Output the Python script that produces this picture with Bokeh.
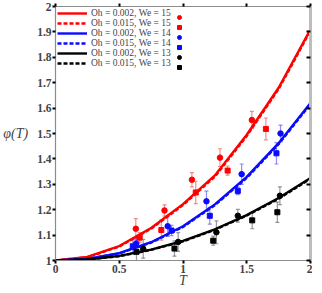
from bokeh.plotting import figure
from bokeh.models import (Range1d, LinearAxis, FixedTicker, Legend, LegendItem,
                          ColumnDataSource, Whisker, TeeHead)
from bokeh.embed import file_html
from bokeh.resources import INLINE

# ---- data -------------------------------------------------------------
T_curve = [0, 0.25, 0.5, 0.75, 1.0, 1.25, 1.5, 1.75, 2.0]
red_solid = [1, 1.014, 1.057, 1.128, 1.222, 1.335, 1.495, 1.680, 1.910]
red_dash = [1, 1.013, 1.055, 1.125, 1.218, 1.330, 1.490, 1.675, 1.905]
blue_solid = [1, 1.006, 1.029, 1.072, 1.135, 1.221, 1.329, 1.462, 1.620]
blue_dash = [1, 1.006, 1.028, 1.070, 1.132, 1.218, 1.325, 1.458, 1.616]
black_solid = [1, 1.004, 1.018, 1.043, 1.077, 1.123, 1.179, 1.246, 1.325]
black_dash = [1, 1.004, 1.017, 1.042, 1.075, 1.121, 1.177, 1.243, 1.322]

# experiments: We = 15
red_c_T = [0.63, 0.855, 1.07, 1.29, 1.54]
red_c_phi = [1.125, 1.197, 1.318, 1.405, 1.553]
red_c_err = [0.040, 0.022, 0.028, 0.035, 0.034]
red_s_T = [0.66, 0.83, 1.10, 1.35, 1.65]
red_s_phi = [1.090, 1.120, 1.268, 1.354, 1.518]
red_s_err = [0.020, 0.040, 0.044, 0.018, 0.043]
# We = 14
blue_c_T = [0.633, 0.88, 1.184, 1.46, 1.765]
blue_c_phi = [1.067, 1.135, 1.233, 1.340, 1.500]
blue_c_err = [0.020, 0.040, 0.040, 0.040, 0.033]
blue_s_T = [0.606, 0.91, 1.21, 1.43, 1.733]
blue_s_phi = [1.056, 1.118, 1.176, 1.274, 1.422]
blue_s_err = [0.025, 0.020, 0.033, 0.015, 0.042]
# We = 13
black_c_T = [0.688, 0.962, 1.262, 1.43, 1.76]
black_c_phi = [1.046, 1.073, 1.111, 1.176, 1.255]
black_c_err = [0.037, 0.037, 0.045, 0.025, 0.035]
black_s_T = [0.635, 0.933, 1.237, 1.543, 1.74]
black_s_phi = [1.034, 1.047, 1.078, 1.158, 1.190]
black_s_err = [0.050, 0.030, 0.018, 0.033, 0.040]

labels = ["Oh = 0.002, We = 15", "Oh = 0.015, We = 15",
          "Oh = 0.002, We = 14", "Oh = 0.015, We = 14",
          "Oh = 0.002, We = 13", "Oh = 0.015, We = 13"]

x_ticks = [0, 0.5, 1, 1.5, 2]
x_tick_labels = ["0", "0.5", "1", "1.5", "2"]
y_ticks = [1, 1.1, 1.2, 1.3, 1.4, 1.5, 1.6, 1.7, 1.8, 1.9, 2]
y_tick_labels = ["1", "1.1", "1.2", "1.3", "1.4", "1.5", "1.6", "1.7", "1.8", "1.9", "2"]

# ---- figure -----------------------------------------------------------
FONT = "Liberation Serif"
p = figure(width=312, height=290, x_range=Range1d(0, 2), y_range=Range1d(1, 2),
           output_backend="svg", toolbar_location=None,
           min_border_left=0, min_border_right=2, min_border_top=6, min_border_bottom=0)
p.grid.visible = False
p.outline_line_color = None
p.background_fill_color = "white"

def style_axis(ax, ticks, labels_, show_labels=True):
    ax.ticker = FixedTicker(ticks=ticks)
    ax.major_label_overrides = {t: l for t, l in zip(ticks, labels_)}
    ax.axis_line_color = "#8c8c8c"
    ax.axis_line_width = 1.2
    ax.major_tick_line_color = "black"
    ax.major_tick_line_width = 2
    ax.major_tick_out = 3
    ax.major_tick_in = 0
    ax.minor_tick_line_color = None
    ax.major_label_text_font = FONT
    ax.major_label_text_font_style = "bold"
    if show_labels:
        ax.major_label_text_font_size = "11.5px"
        ax.major_label_standoff = 1
    else:
        ax.major_label_text_font_size = "1px"
        ax.major_label_text_color = None
        ax.major_label_standoff = 0

style_axis(p.xaxis[0], x_ticks, x_tick_labels)
style_axis(p.yaxis[0], y_ticks, y_tick_labels)
p.xaxis.axis_label = "T"
p.xaxis.axis_label_text_font = FONT
p.xaxis.axis_label_text_font_style = "italic"
p.xaxis.axis_label_text_font_size = "14px"
p.xaxis.axis_label_standoff = -3
p.yaxis.axis_label = "φ(T)"
p.yaxis.axis_label_text_font = FONT
p.yaxis.axis_label_text_font_style = "italic"
p.yaxis.axis_label_text_font_size = "14px"
p.yaxis.axis_label_orientation = "horizontal"
p.yaxis.axis_label_standoff = 6

top = LinearAxis()
style_axis(top, x_ticks, x_tick_labels, show_labels=False)
p.add_layout(top, "above")
right = LinearAxis()
style_axis(right, y_ticks, y_tick_labels, show_labels=False)
right.major_tick_out = 0
right.major_tick_in = 4
right.axis_line_color = "#bdbdbd"
right.axis_line_width = 3
p.add_layout(right, "right")

# ---- curves -----------------------------------------------------------
RED, BLUE, BLACK = "#ff0000", "#0a0aff", "#000000"
lines = []
for ys, col, dash in [(red_solid, RED, "solid"), (red_dash, RED, "4 2"),
                      (blue_solid, BLUE, "solid"), (blue_dash, BLUE, "4 2"),
                      (black_solid, BLACK, "solid"), (black_dash, BLACK, "4 2")]:
    lines.append(p.line(T_curve, ys, line_color=col, line_width=2.4, line_dash=dash))

# ---- experiments -------------------------------------------------------
markers = []
sets = [(red_c_T, red_c_phi, red_c_err, RED, "#f07070", "circle"),
        (red_s_T, red_s_phi, red_s_err, RED, "#f07070", "square"),
        (blue_c_T, blue_c_phi, blue_c_err, BLUE, "#7070f0", "circle"),
        (blue_s_T, blue_s_phi, blue_s_err, BLUE, "#7070f0", "square"),
        (black_c_T, black_c_phi, black_c_err, BLACK, "#808080", "circle"),
        (black_s_T, black_s_phi, black_s_err, BLACK, "#808080", "square")]
for Ts, phis, errs, col, ecol, mk in sets:
    src = ColumnDataSource(dict(x=Ts, y=phis,
                                upper=[a + e for a, e in zip(phis, errs)],
                                lower=[a - e for a, e in zip(phis, errs)]))
    w = Whisker(source=src, base="x", upper="upper", lower="lower",
                line_color=ecol, line_alpha=0.8, line_width=1.2,
                upper_head=TeeHead(size=4, line_color=ecol, line_alpha=0.8, line_width=1.2),
                lower_head=TeeHead(size=4, line_color=ecol, line_alpha=0.8, line_width=1.2))
    p.add_layout(w)
    markers.append(p.scatter("x", "y", source=src, marker=mk,
                             size=5.5 if mk == "circle" else 5,
                             fill_color=col, line_color=col))

# ---- legends -----------------------------------------------------------
leg1 = Legend(items=[LegendItem(label=l, renderers=[r]) for l, r in zip(labels, lines)],
              location="top_left", margin=2, padding=1, spacing=0,
              glyph_width=30, glyph_height=10, label_height=10, label_standoff=4,
              label_text_font=FONT, label_text_font_size="9.5px",
              border_line_color=None, background_fill_alpha=0)
leg2 = Legend(items=[LegendItem(label=" ", renderers=[r]) for r in markers],
              location=(119, 188), margin=0, padding=1, spacing=0,
              glyph_width=10, glyph_height=10, label_height=10, label_standoff=0,
              label_text_font=FONT, label_text_font_size="9.5px",
              border_line_color=None, background_fill_alpha=0)
p.add_layout(leg1)
p.add_layout(leg2)

open("out.html", "w").write(file_html(p, INLINE))
